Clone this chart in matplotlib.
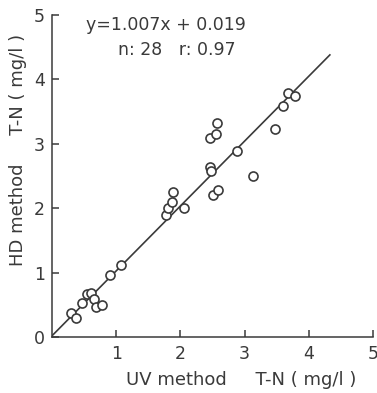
import matplotlib
matplotlib.use("Agg")
import matplotlib.pyplot as plt
import numpy as np

# UV method vs HD method, T-N (mg/l)
uv_tn = [0.29, 0.38, 0.46, 0.55, 0.60, 0.65, 0.69, 0.78, 0.91, 1.08,
         1.78, 1.80, 1.87, 1.89, 2.05,
         2.46, 2.48, 2.51, 2.59, 2.46, 2.55, 2.57, 2.89, 3.13,
         3.48, 3.60, 3.67, 3.78]
hd_tn = [0.38, 0.29, 0.53, 0.67, 0.68, 0.59, 0.46, 0.50, 0.96, 1.11,
         1.89, 2.01, 2.09, 2.25, 2.01,
         2.64, 2.57, 2.20, 2.28, 3.09, 3.15, 3.32, 2.89, 2.50,
         3.23, 3.58, 3.79, 3.74]

slope = 1.007
intercept = 0.019
fit_x = [0.0, 4.33]

ink = "#3a3a3a"
plt.rcParams["font.family"] = "DejaVu Sans"

fig = plt.figure(figsize=(3.77, 3.93), dpi=100)
ax = fig.add_axes([0.138, 0.1425, 0.851, 0.8195])

fx = np.array(fit_x)
ax.plot(fx, slope * fx + intercept, color=ink, lw=1.2, zorder=2)
ax.plot(uv_tn, hd_tn, "o", mfc="white", mec=ink, mew=1.2, ms=6.5,
        ls="none", zorder=3)

ax.set_xlim(0, 5)
ax.set_ylim(0, 5)
ax.set_xticks([1, 2, 3, 4, 5])
ax.set_yticks([0, 1, 2, 3, 4, 5])
for s in ["top", "right"]:
    ax.spines[s].set_visible(False)
for s in ["left", "bottom"]:
    ax.spines[s].set_color(ink)
    ax.spines[s].set_linewidth(1.1)
ax.tick_params(direction="in", length=5, width=1.1, color=ink,
               labelcolor=ink, labelsize=12.5)
ax.tick_params(axis="x", pad=6)
ax.tick_params(axis="y", pad=5)

ax.text(0.355, 0.969, "y=1.007x + 0.019", transform=ax.transAxes,
        ha="center", va="center", fontsize=12.5, color=ink)
ax.text(0.39, 0.891, "n: 28   r: 0.97", transform=ax.transAxes,
        ha="center", va="center", fontsize=12.5, color=ink)

ax.set_xlabel("UV method     T-N ( mg/l )", fontsize=13, color=ink)
ax.xaxis.set_label_coords(0.59, -0.106)
ax.set_ylabel("HD method     T-N ( mg/l )", fontsize=13, color=ink)
ax.yaxis.set_label_coords(-0.078, 0.58)

fig.savefig("out.png", dpi=100)
